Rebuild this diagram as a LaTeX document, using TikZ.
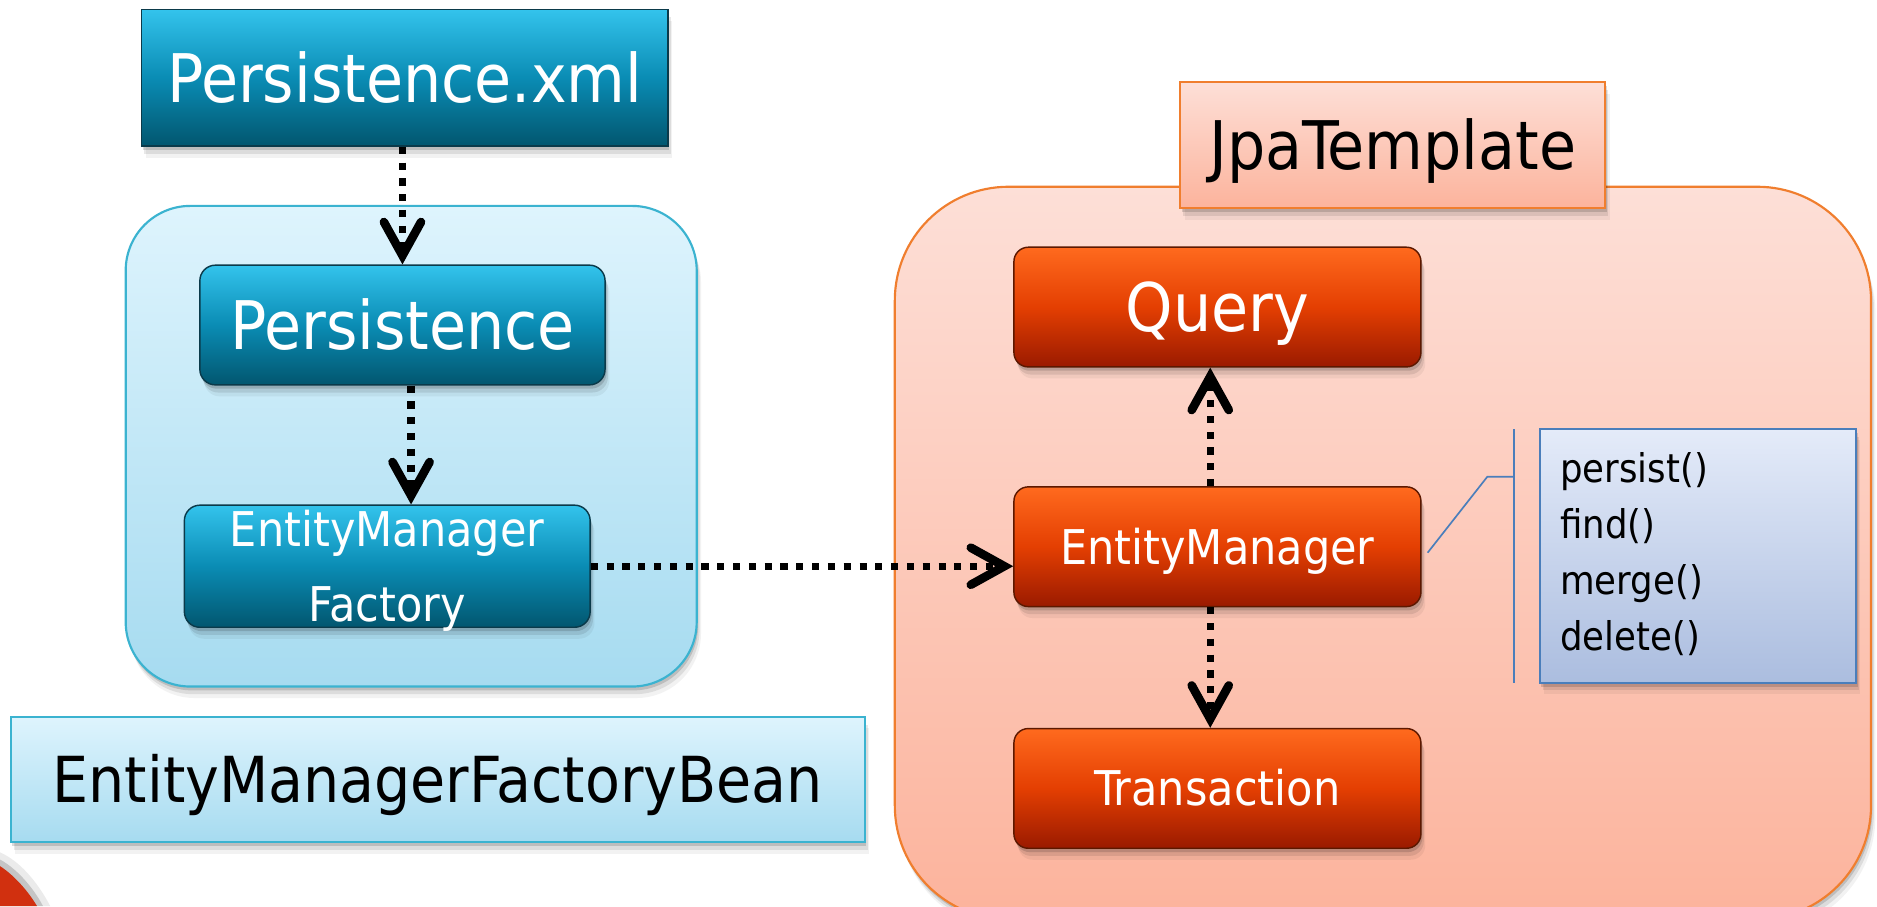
\documentclass[tikz,border=0pt]{standalone}
\usepackage{fontspec}
\setmainfont{DejaVu Sans Condensed}
\usetikzlibrary{arrows.meta,shadows,calc}

\definecolor{btnbluetop}{HTML}{33C3EC}
\definecolor{btnbluemid}{HTML}{0A8CB4}
\definecolor{btnbluebot}{HTML}{02566F}
\definecolor{btnblueedge}{HTML}{0B3A4A}
\definecolor{btnredtop}{HTML}{FF6A1E}
\definecolor{btnredmid}{HTML}{E43F02}
\definecolor{btnredbot}{HTML}{9A1A00}
\definecolor{btnrededge}{HTML}{5C1800}
\definecolor{paleblutop}{HTML}{DEF4FD}
\definecolor{paleblubot}{HTML}{A6DBF0}
\definecolor{palebluedge}{HTML}{3BB3D0}
\definecolor{peachtop}{HTML}{FDDFD7}
\definecolor{peachbot}{HTML}{FCB39C}
\definecolor{peachedge}{HTML}{F07E2E}
\definecolor{notetop}{HTML}{E4EBF9}
\definecolor{notebot}{HTML}{ABBDDF}
\definecolor{noteedge}{HTML}{4A7EBB}
\definecolor{cornerred}{HTML}{D1300F}

\begin{document}
\begin{tikzpicture}[x=0.5pt, y=-0.5pt,
  softshadow/.style={
    drop shadow={shadow xshift=0.6pt, shadow yshift=-1.6pt, opacity=0.14, fill=black},
    drop shadow={shadow xshift=1.2pt, shadow yshift=-3.2pt, opacity=0.09, fill=black},
    drop shadow={shadow xshift=1.8pt, shadow yshift=-4.8pt, opacity=0.05, fill=black}},
  glossbox/.style={rectangle, inner sep=0pt, line width=0.6pt, text=white, softshadow},
  bluebtn/.style={glossbox, draw=btnblueedge, top color=btnbluetop, bottom color=btnbluebot, middle color=btnbluemid},
  redbtn/.style={glossbox, draw=btnrededge, rounded corners=6pt, top color=btnredtop, bottom color=btnredbot, middle color=btnredmid, minimum width=170pt, minimum height=50pt},
  bigtext/.style={font=\fontsize{28}{32}\selectfont, text height=20.4pt, text depth=0pt},
  midtext/.style={font=\fontsize{20}{24}\selectfont, text height=14.6pt, text depth=0pt},
  panel/.style={rectangle, inner sep=0pt, line width=0.9pt, softshadow},
  bluepanel/.style={panel, draw=palebluedge, top color=paleblutop, bottom color=paleblubot},
  peachpanel/.style={panel, draw=peachedge, top color=peachtop, bottom color=peachbot},
  notebox/.style={rectangle, inner sep=0pt, draw=noteedge, line width=0.9pt, top color=notetop, bottom color=notebot, softshadow},
  methodtext/.style={font=\fontsize{16.5}{20}\selectfont, inner sep=0pt, anchor=base west},
  flow/.style={line width=3pt, dash pattern=on 3pt off 3.6pt, -{Straight Barb[length=14pt, width=15.5pt, line width=3.6pt, line cap=round]}},
  callout/.style={draw=noteedge, line width=0.7pt},
]
\useasboundingbox (0,0) rectangle (1568,757);
\clip (0,0) rectangle (1568,757);

% red corner ornament with its soft shadow
\fill[black, opacity=0.08] (0,712) .. controls (16,719) and (31,736) .. (42,757) -- (0,757) -- cycle;
\fill[black, opacity=0.16] (0,718) .. controls (13,725) and (27,740) .. (36,757) -- (0,757) -- cycle;
\fill[cornerred] (0,723.5) .. controls (10,730) and (22,742) .. (31,757) -- (0,757) -- cycle;

% container panels
\node[bluepanel, rounded corners=27pt, minimum width=238.5pt, minimum height=200.75pt] (factorypanel) at (343.5,372.75) {};
\node[peachpanel, rounded corners=47.5pt, minimum width=407.75pt, minimum height=306pt] (templatepanel) at (1155.25,462) {};

% left column
\node[bluebtn, bigtext, minimum width=220pt, minimum height=57pt] (xml) at (338,65) {Persistence.xml};
\node[bluebtn, bigtext, rounded corners=6.5pt, minimum width=169.25pt, minimum height=50pt] (pers) at (336.2,271.5) {Persistence};
\node[bluebtn, rounded corners=6.5pt, minimum width=169.5pt, minimum height=51pt] (emf) at (323.5,473) {};
\node[font=\fontsize{20}{31.5}\selectfont, text=white, align=center, inner sep=0pt] (emftext) at ([yshift=-1.8pt]emf.center) {EntityManager\\Factory};
\node[bluepanel, font=\fontsize{26.5}{30}\selectfont, text height=19.3pt, text depth=0pt, minimum width=356.75pt, minimum height=52.35pt] (bean) at (365.7,651.3) {EntityManagerFactoryBean};

% right column
\node[peachpanel, bigtext, minimum width=177.5pt, minimum height=52.75pt] (jpa) at (1163.5,121.25) {JpaTemplate};
\node[redbtn, bigtext] (query) at (1017,256.5) {Query};
\node[redbtn, midtext] (em) at (1017,456.7) {EntityManager};
\node[redbtn, midtext] (tx) at (1017,658.6) {Transaction};

% method list
\node[notebox, minimum width=132pt, minimum height=106pt] (methods) at (1418.5,464.35) {};
\node[methodtext] (mpersist) at (1303,403.2) {persist()};
\node[methodtext] (mfind) at (1303,449.7) {find()};
\node[methodtext] (mmerge) at (1303,496.3) {merge()};
\node[methodtext] (mdelete) at (1303,543) {delete()};

\coordinate (btop) at (1264.8,358.4);
\coordinate (bbot) at (1264.8,570.3);
\coordinate (elbow) at (1242.5,398.2);
\draw[callout] (btop) -- (bbot);
\draw[callout] ($(em.east)+(5,5)$) -- (elbow) -- (elbow -| btop);

% flows
\draw[flow] (xml.south -| pers.north) -- (pers.north);
\draw[flow] ([xshift=3.6pt]pers.south) -- ([xshift=3.6pt]pers.south |- emf.north);
\draw[flow] (emf.east) -- (emf.east -| em.west);
\draw[flow] ([xshift=-3pt]em.north) -- ([xshift=-3pt]em.north |- query.south);
\draw[flow] ([xshift=-3pt]em.south) -- ([xshift=-3pt]em.south |- tx.north);
\end{tikzpicture}
\end{document}
